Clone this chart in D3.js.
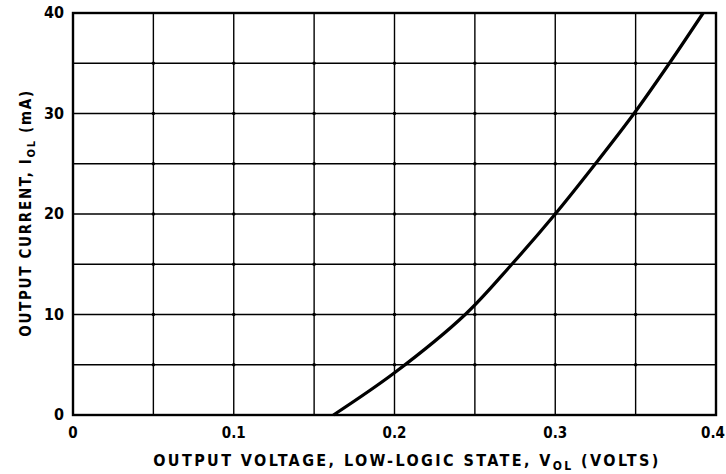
<!DOCTYPE html>
<html><head><meta charset="utf-8">
<script src="https://cdn.jsdelivr.net/npm/d3@7"></script>
<style>
body{margin:0;background:#fff;}
text{font-family:"DejaVu Sans Condensed","Liberation Sans Narrow",sans-serif;font-weight:bold;fill:#000;}
</style></head>
<body><svg id="c" width="726" height="474"></svg>
<script>
const voltage = [0.162, 0.200, 0.244, 0.273, 0.300, 0.325, 0.349, 0.371, 0.392];
const current = [0, 4.2, 10, 15, 20, 25, 30, 35, 40];
const xTicks = [0, 0.1, 0.2, 0.3, 0.4];
const xTickLabels = ["0", "0.1", "0.2", "0.3", "0.4"];
const yTicks = [0, 10, 20, 30, 40];
const xGrid = [0.05, 0.1, 0.15, 0.2, 0.25, 0.3, 0.35];
const yGrid = [5, 10, 15, 20, 25, 30, 35];

const svg = d3.select("#c");
const L = 73, R = 716, T = 13, B = 415;
const x = d3.scaleLinear().domain([0, 0.4]).range([L, R]);
const y = d3.scaleLinear().domain([0, 40]).range([B, T]);

const g = svg.append("g");
g.selectAll(".vg").data(xGrid).join("line")
  .attr("x1", d => x(d)).attr("x2", d => x(d)).attr("y1", T).attr("y2", B)
  .attr("stroke", "#000").attr("stroke-width", 1.4);
g.selectAll(".hg").data(yGrid).join("line")
  .attr("y1", d => y(d)).attr("y2", d => y(d)).attr("x1", L).attr("x2", R)
  .attr("stroke", "#000").attr("stroke-width", 1.4);
g.append("rect").attr("x", L).attr("y", T).attr("width", R - L).attr("height", B - T)
  .attr("fill", "none").attr("stroke", "#000").attr("stroke-width", 2.4);

// intersection dots
const pts = [];
xGrid.forEach(a => yGrid.forEach(b => pts.push([a, b])));
g.selectAll(".dot").data(pts).join("circle")
  .attr("cx", d => x(d[0])).attr("cy", d => y(d[1])).attr("r", 1.8).attr("fill", "#000");

const data = voltage.map((v, i) => [v, current[i]]);
g.append("path").datum(data)
  .attr("d", d3.line().x(d => x(d[0])).y(d => y(d[1])).curve(d3.curveCatmullRom))
  .attr("fill", "none").attr("stroke", "#000").attr("stroke-width", 3.2);

// tick labels
svg.selectAll(".xl").data(xTicks).join("text")
  .attr("x", (d, i) => i === xTicks.length - 1 ? 725 : x(d)).attr("y", 438)
  .attr("text-anchor", (d, i) => i === xTicks.length - 1 ? "end" : "middle")
  .attr("font-size", 15).text((d, i) => xTickLabels[i]);
svg.selectAll(".yl").data(yTicks).join("text")
  .attr("x", 64).attr("y", d => y(d) + 5).attr("text-anchor", "end")
  .attr("font-size", 16).text(d => d);

// axis titles
const xt = svg.append("text").attr("x", 407).attr("y", 466).attr("text-anchor", "middle")
  .attr("font-size", 16).attr("letter-spacing", 2.4);
xt.append("tspan").text("OUTPUT VOLTAGE, LOW-LOGIC STATE, V");
xt.append("tspan").attr("font-size", 12).attr("dy", 4).text("OL");
xt.append("tspan").attr("dy", -4).text(" (VOLTS)");

const yt = svg.append("text").attr("transform", "translate(31,213) rotate(-90)")
  .attr("text-anchor", "middle").attr("font-size", 15).attr("letter-spacing", 1.7);
yt.append("tspan").text("OUTPUT CURRENT, I");
yt.append("tspan").attr("font-size", 11).attr("dy", 4).text("OL");
yt.append("tspan").attr("dy", -4).text(" (mA)");
</script></body></html>
